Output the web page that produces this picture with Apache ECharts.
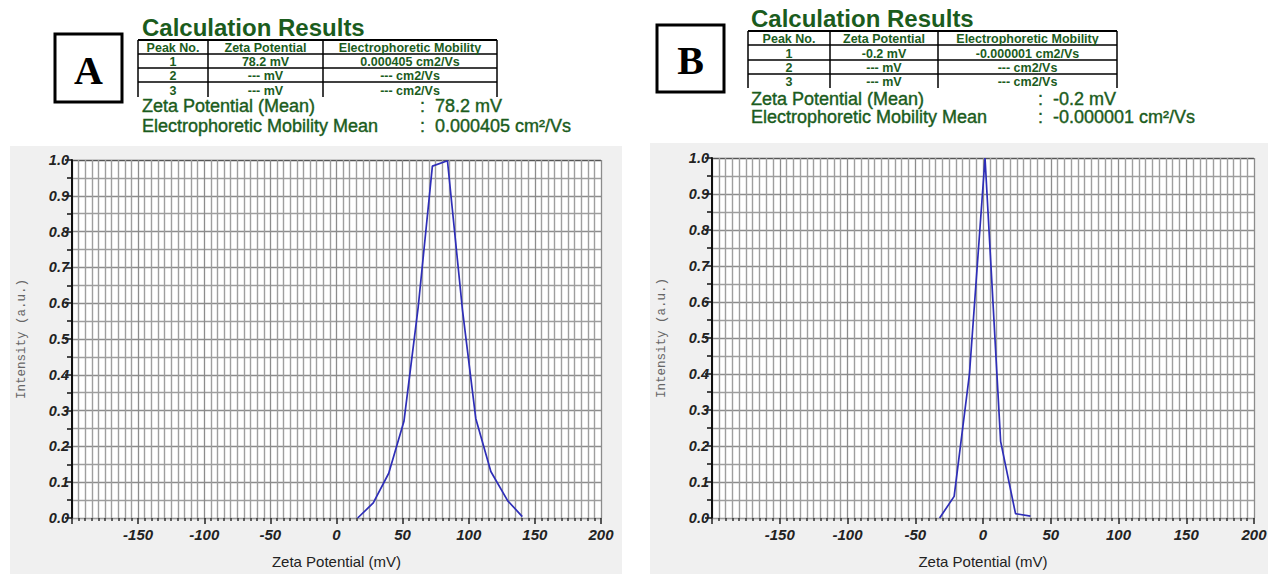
<!DOCTYPE html>
<html>
<head>
<meta charset="utf-8">
<script src="https://cdn.jsdelivr.net/npm/echarts@6/dist/echarts.min.js"></script>
<style>
html,body{margin:0;padding:0;background:#fff;}
#chart{width:1273px;height:574px;}
</style>
</head>
<body>
<div id="chart"></div>
<script>
// ---- data ----
const zetaA = [16, 27.8, 39.5, 51, 61.8, 72.5, 83.9, 95.2, 105.3, 116.7, 129.5, 140.5];
const intensityA = [0, 0.042, 0.125, 0.27, 0.59, 0.983, 0.998, 0.583, 0.278, 0.13, 0.048, 0.004];
const zetaB = [-32, -21.3, -10, 1.5, 13, 24, 35];
const intensityB = [0, 0.06, 0.4, 1.0, 0.213, 0.012, 0.005];

const tableHeaders = ['Peak No.', 'Zeta Potential', 'Electrophoretic Mobility'];
const peakNos = ['1', '2', '3'];
const zetaPeaksA = ['78.2 mV', '--- mV', '--- mV'];
const mobilityPeaksA = ['0.000405 cm2/Vs', '--- cm2/Vs', '--- cm2/Vs'];
const zetaPeaksB = ['-0.2 mV', '--- mV', '--- mV'];
const mobilityPeaksB = ['-0.000001 cm2/Vs', '--- cm2/Vs', '--- cm2/Vs'];
const meanLabels = ['Zeta Potential (Mean)', 'Electrophoretic Mobility Mean'];
const meanValuesA = ['78.2 mV', '0.000405 cm²/Vs'];
const meanValuesB = ['-0.2 mV', '-0.000001 cm²/Vs'];
const panelLetters = ['A', 'B'];
const titleText = 'Calculation Results';
const xName = 'Zeta Potential (mV)';
const yName = 'Intensity (a.u.)';

const GREEN = '#1b5c1d';
const SANS = '"Liberation Sans", Arial, sans-serif';

function header(cfg) {
  const els = [];
  els.push({type:'rect', shape:{x:cfg.box[0], y:cfg.box[1], width:cfg.box[2], height:cfg.box[3]},
    style:{fill:'#fff', stroke:'#000', lineWidth:3}});
  els.push({type:'text', x:cfg.box[0]+cfg.box[2]/2, y:cfg.box[1]+cfg.box[3]/2+2,
    style:{text:cfg.letter, font:'bold 40px "Liberation Serif", "Times New Roman", serif', fill:'#000', align:'center', verticalAlign:'middle'}});
  els.push({type:'text', x:cfg.titleX, y:cfg.titleY,
    style:{text:titleText, font:'bold 24px '+SANS, fill:GREEN, align:'left', verticalAlign:'middle'}});
  const xs = cfg.colX, ys = cfg.rowY;
  ys.forEach((y, i) => {
    els.push({type:'line', shape:{x1:xs[0], y1:y, x2:xs[3], y2:y}, style:{stroke:'#000', lineWidth: i===0?2:1.5}});
  });
  xs.forEach(x => {
    els.push({type:'line', shape:{x1:x, y1:ys[0], x2:x, y2:cfg.tableBottom}, style:{stroke:'#000', lineWidth:1.5}});
  });
  const cols = [peakNos, cfg.zeta, cfg.mob];
  const centers = [(xs[0]+xs[1])/2, (xs[1]+xs[2])/2, (xs[2]+xs[3])/2];
  tableHeaders.forEach((h, c) => {
    els.push({type:'text', x:centers[c], y:(ys[0]+ys[1])/2+1,
      style:{text:h, font:'bold 12.5px '+SANS, fill:GREEN, align:'center', verticalAlign:'middle'}});
  });
  for (let r = 0; r < 3; r++) {
    const yc = r < 2 ? (ys[r+1]+ys[r+2])/2 : (ys[3]+cfg.tableBottom)/2;
    cols.forEach((col, c) => {
      els.push({type:'text', x:centers[c], y:yc+1,
        style:{text:col[r], font:'bold 12.5px '+SANS, fill:GREEN, align:'center', verticalAlign:'middle'}});
    });
  }
  meanLabels.forEach((lab, i) => {
    els.push({type:'text', x:cfg.titleX, y:cfg.meanY[i],
      style:{text:lab, font:'18px '+SANS, fill:GREEN, align:'left', verticalAlign:'middle', stroke:GREEN, lineWidth:0.4}});
    els.push({type:'text', x:cfg.colonX, y:cfg.meanY[i],
      style:{text:':  ' + cfg.means[i], font:'18px '+SANS, fill:GREEN, align:'left', verticalAlign:'middle', stroke:GREEN, lineWidth:0.4}});
  });
  return els;
}

const graphics = [
  {type:'rect', z:-10, shape:{x:10, y:146, width:612, height:428}, style:{fill:'#f0f0f0'}},
  {type:'rect', z:-10, shape:{x:650, y:143, width:618, height:431}, style:{fill:'#f0f0f0'}},
  ...header({letter:panelLetters[0], box:[55,34,67,68], titleX:142, titleY:27,
    colX:[138,208,323,497], rowY:[40,54,68,82], tableBottom:97,
    zeta:zetaPeaksA, mob:mobilityPeaksA, meanY:[106,126], colonX:420, means:meanValuesA}),
  ...header({letter:panelLetters[1], box:[657,25,67,67], titleX:751, titleY:18,
    colX:[748,830,938,1117], rowY:[31,45,60,74], tableBottom:88,
    zeta:zetaPeaksB, mob:mobilityPeaksB, meanY:[99,117], colonX:1038, means:meanValuesB})
];

const ySplitColors = ['#8c8c8c','#8c8c8c','#8c8c8c','#8c8c8c','#8c8c8c','#8c8c8c','#8c8c8c','#8c8c8c','#8c8c8c','#8c8c8c','#555'];

function xAxisCfg(gi) {
  return {
    gridIndex: gi, type:'value', min:-200, max:200, interval:50,
    name: xName, nameLocation:'middle', nameGap:36,
    nameTextStyle:{fontFamily:SANS, fontSize:15, color:'#222'},
    axisLine:{show:true, onZero:false, lineStyle:{color:'#999', width:1}},
    axisTick:{show:true, length:6, lineStyle:{color:'#222', width:1.5}},
    minorTick:{show:true, splitNumber:10, length:3, lineStyle:{color:'#333', width:1.5}},
    splitLine:{show:true, lineStyle:{color:'#8c8c8c', width:1.3}},
    minorSplitLine:{show:true, lineStyle:{color:'#9e9e9e', width:1.4}},
    axisLabel:{margin:9, formatter: v => (v === -200 ? '' : String(v)),
      fontFamily:SANS, fontStyle:'italic', fontWeight:'bold', fontSize:15, color:'#222'}
  };
}
function yAxisCfg(gi) {
  return {
    gridIndex: gi, type:'value', min:0, max:1, interval:0.1,
    name: yName, nameLocation:'middle', nameGap:44,
    nameTextStyle:{fontFamily:'"Liberation Mono", "DejaVu Sans Mono", monospace', fontSize:12.5, color:'#666'},
    axisLine:{show:true, onZero:false, lineStyle:{color:'#111', width:2}},
    axisTick:{show:true, length:7, lineStyle:{color:'#111', width:1.5}},
    minorTick:{show:true, splitNumber:2, length:5, lineStyle:{color:'#111', width:1.5}},
    splitLine:{show:true, lineStyle:{color:ySplitColors, width:1.3}},
    minorSplitLine:{show:true, lineStyle:{color:'#9e9e9e', width:1.3}},
    axisLabel:{margin:3, formatter: v => v.toFixed(1),
      fontFamily:SANS, fontStyle:'italic', fontWeight:'bold', fontSize:14.5, color:'#222'}
  };
}

const chart = echarts.init(document.getElementById('chart'), null, {renderer:'svg'});
chart.setOption({
  backgroundColor:'#fff',
  animation:false,
  graphic: graphics,
  grid:[
    {left:72, top:160, width:529, height:360, show:true, backgroundColor:'#fff', borderWidth:0},
    {left:712, top:158, width:542, height:362, show:true, backgroundColor:'#fff', borderWidth:0}
  ],
  xAxis:[xAxisCfg(0), xAxisCfg(1)],
  yAxis:[yAxisCfg(0), yAxisCfg(1)],
  series:[
    {type:'line', xAxisIndex:0, yAxisIndex:0, showSymbol:false,
     lineStyle:{color:'#2e2eb8', width:1.7},
     data: zetaA.map((x, i) => [x, intensityA[i]])},
    {type:'line', xAxisIndex:1, yAxisIndex:1, showSymbol:false,
     lineStyle:{color:'#2e2eb8', width:1.7},
     data: zetaB.map((x, i) => [x, intensityB[i]])}
  ]
});
</script>
</body>
</html>
